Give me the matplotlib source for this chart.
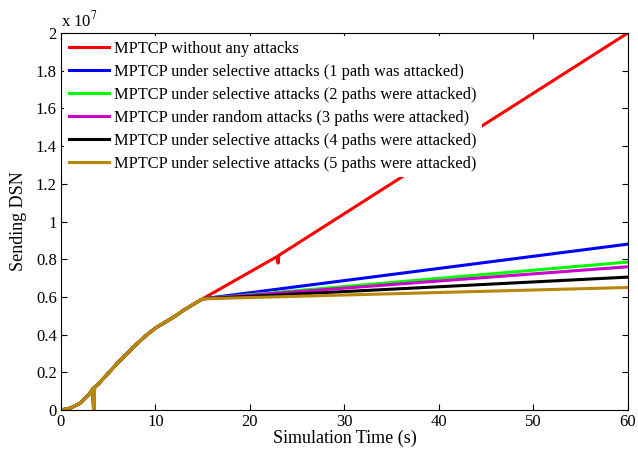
import numpy as np
import matplotlib.pyplot as plt
from matplotlib.ticker import FuncFormatter

plt.rcParams['font.family'] = ['Liberation Serif', 'DejaVu Serif']
plt.rcParams['mathtext.fontset'] = 'stix'

# shared start (before attacks begin at t=15 s), values in units of 1e6
t_common = [0, 1, 2, 3, 3.4, 3.45, 3.5, 3.55, 4, 5, 6, 7, 8, 9, 10, 11, 12, 13, 14, 15]
y_common = [0, 0.1, 0.35, 0.85, 1.15, 0.0, 0.0, 1.2, 1.4, 1.95, 2.5, 3.0, 3.5, 3.95,
            4.35, 4.65, 4.95, 5.3, 5.6, 5.9]

# tails from t=15 to t=60 (the unattacked run has a small dip near 23 s)
labels = ['MPTCP without any attacks',
          'MPTCP under selective attacks (1 path was attacked)',
          'MPTCP under selective attacks (2 paths were attacked)',
          'MPTCP under random attacks (3 paths were attacked)',
          'MPTCP under selective attacks (4 paths were attacked)',
          'MPTCP under selective attacks (5 paths were attacked)']
tail_t = [[22.9, 22.95, 23.0, 23.05, 60],
          [60], [60], [60], [60], [60]]
tail_y = [[8.15, 7.8, 7.8, 8.2, 20.0],
          [8.8], [7.85], [7.6], [7.05], [6.5]]
colors = ['#ff0000', '#0000ff', '#00ff00', '#cc00cc', '#000000', '#b8860b']

fig = plt.figure(figsize=(6.38, 4.53), dpi=100)
ax = fig.add_axes([0.0956, 0.0949, 0.8884, 0.8322])

for label, tt, ty, c in zip(labels, tail_t, tail_y, colors):
    t = t_common + tt
    y = y_common + ty
    ax.plot(t, np.array(y) * 1e6, color=c, lw=2.2, label=label)

# common curve drawn on top in the last colour
ax.plot(t_common, np.array(y_common) * 1e6, color=colors[-1], lw=2.4)

ax.set_xlim(0, 60)
ax.set_ylim(0, 2e7)
ax.set_xticks(np.arange(0, 61, 10))
ax.set_yticks(np.arange(0, 2.01e7, 0.2e7))
ax.yaxis.set_major_formatter(FuncFormatter(lambda v, p: '%g' % round(v / 1e7, 1)))
ax.tick_params(direction='in', top=True, right=True, labelsize=12, length=4, pad=3)
ax.set_xlabel('Simulation Time (s)', fontsize=13, labelpad=0)
ax.set_ylabel('Sending DSN', fontsize=13, labelpad=6)
ax.text(0.0, 1.008, 'x 10$^{7}$', transform=ax.transAxes, fontsize=12, va='bottom')

leg = ax.legend(loc='upper left', fontsize=11.8, frameon=True, fancybox=False,
                edgecolor='white', framealpha=1, handlelength=2.4,
                borderaxespad=0.2, borderpad=0.3, labelspacing=0.42,
                handletextpad=0.35)
leg.get_frame().set_linewidth(0)

fig.savefig('out.png', dpi=100)
